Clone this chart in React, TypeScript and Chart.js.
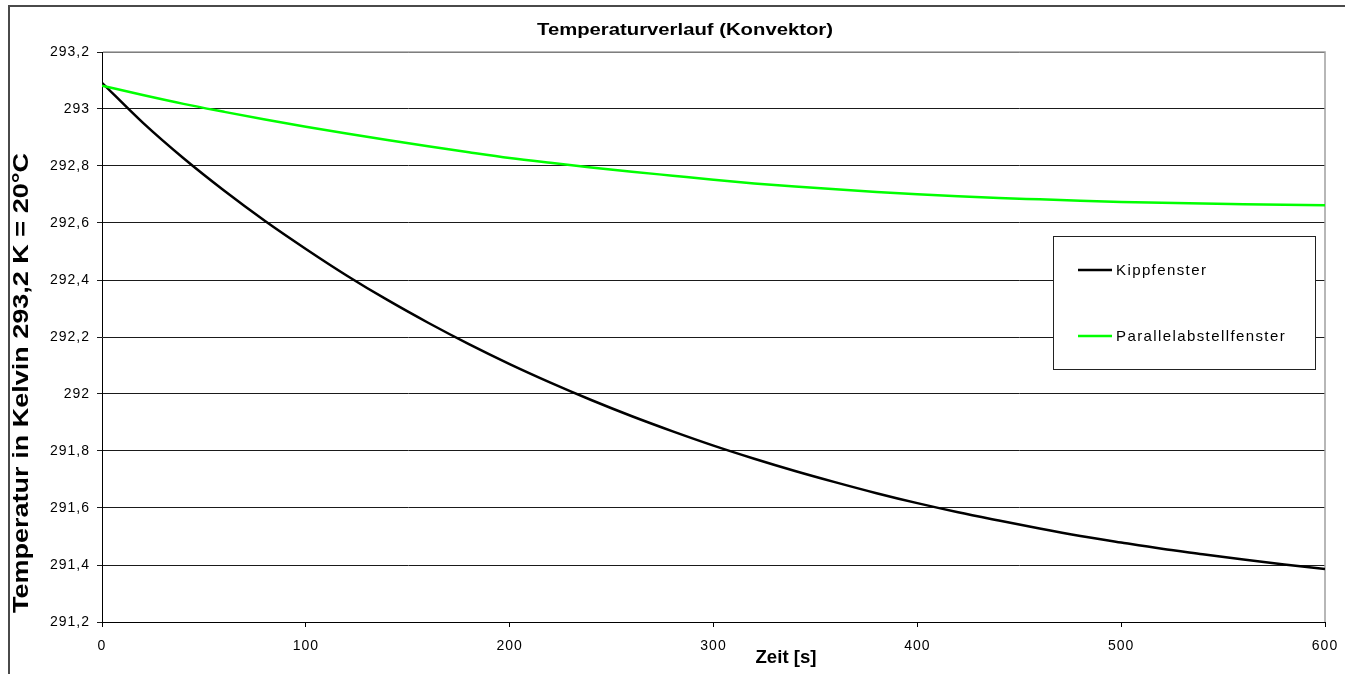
import { useEffect, useRef } from "react";
import { Chart, registerables, type Plugin } from "chart.js";

Chart.register(...registerables);

// Zeitachse in Sekunden
const zeit = [
  0, 20, 40, 60, 80, 100, 120, 140, 160, 180, 200, 220, 240, 260, 280, 300,
  320, 340, 360, 380, 400, 420, 440, 460, 480, 500, 520, 540, 560, 580, 600,
];

// Temperatur in Kelvin
const kippfenster = [
  293.092, 292.952, 292.827, 292.713, 292.607, 292.509, 292.416, 292.33,
  292.25, 292.175, 292.105, 292.04, 291.979, 291.922, 291.869, 291.819,
  291.773, 291.73, 291.69, 291.652, 291.617, 291.585, 291.556, 291.528,
  291.502, 291.479, 291.457, 291.438, 291.419, 291.402, 291.386,
];

const parallelabstellfenster = [
  293.082, 293.049, 293.018, 292.99, 292.963, 292.938, 292.914, 292.891,
  292.869, 292.848, 292.828, 292.811, 292.795, 292.78, 292.766, 292.752,
  292.739, 292.728, 292.718, 292.709, 292.701, 292.694, 292.688, 292.683,
  292.678, 292.674, 292.671, 292.668, 292.666, 292.664, 292.662,
];

const yTicks = [
  291.2, 291.4, 291.6, 291.8, 292, 292.2, 292.4, 292.6, 292.8, 293, 293.2,
];
const xTicks = [0, 100, 200, 300, 400, 500, 600];

const titel = "Temperaturverlauf (Konvektor)";
const xTitel = "Zeit [s]";
const yTitel = "Temperatur in Kelvin 293,2 K = 20°C";

const FONT = '"Liberation Sans", Arial, sans-serif';

// Text auf eine feste Breite bringen (Excel-Schrift ist schmaler/breiter)
function fitText(
  ctx: CanvasRenderingContext2D,
  text: string,
  x: number,
  y: number,
  width: number,
  font: string,
  rotate = false
) {
  ctx.save();
  ctx.font = font;
  (ctx as any).letterSpacing = "0px";
  const w = ctx.measureText(text).width;
  ctx.translate(x, y);
  if (rotate) ctx.rotate(-Math.PI / 2);
  ctx.scale(width / w, 1);
  ctx.textAlign = "center";
  ctx.textBaseline = "middle";
  ctx.fillStyle = "#000";
  ctx.fillText(text, 0, 0);
  ctx.restore();
}

const excelDeko: Plugin<"line"> = {
  id: "excelDeko",
  beforeDraw(chart) {
    const ctx = chart.ctx;
    ctx.save();
    ctx.strokeStyle = "#4a4a4a";
    ctx.lineWidth = 2;
    ctx.strokeRect(9, 6, 1400, 720);
    ctx.restore();
    (ctx as any).letterSpacing = "1px";
  },
  beforeDatasetsDraw(chart) {
    const { ctx, chartArea } = chart;
    ctx.save();
    ctx.strokeStyle = "#a0a0a0";
    ctx.lineWidth = 1.5;
    ctx.beginPath();
    ctx.moveTo(chartArea.left + 1, chartArea.top);
    ctx.lineTo(chartArea.right, chartArea.top);
    ctx.lineTo(chartArea.right, chartArea.bottom);
    ctx.stroke();
    ctx.restore();
  },
  afterDraw(chart) {
    const ctx = chart.ctx;
    fitText(ctx, titel, 685, 30, 296, `bold 17px ${FONT}`);
    fitText(ctx, xTitel, 786, 658, 61, `bold 19px ${FONT}`);
    fitText(ctx, yTitel, 22, 383, 460, `bold 22px ${FONT}`, true);

    // Legende
    ctx.save();
    ctx.fillStyle = "#fff";
    ctx.fillRect(1053, 236, 262, 133);
    ctx.strokeStyle = "#222";
    ctx.lineWidth = 1;
    ctx.strokeRect(1053.5, 236.5, 262, 133);
    const rows = [270, 336];
    chart.data.datasets.forEach((ds, i) => {
      const y = rows[i];
      ctx.strokeStyle = ds.borderColor as string;
      ctx.lineWidth = 2.5;
      ctx.beginPath();
      ctx.moveTo(1078, y);
      ctx.lineTo(1112, y);
      ctx.stroke();
      ctx.font = `15px ${FONT}`;
      (ctx as any).letterSpacing = "1.4px";
      ctx.fillStyle = "#000";
      ctx.textAlign = "left";
      ctx.textBaseline = "middle";
      ctx.fillText(ds.label ?? "", 1116, y + 1);
    });
    ctx.restore();
  },
};

const komma = (v: number) =>
  String(Number(v.toFixed(1))).replace(".", ",");

export default function App() {
  const canvasRef = useRef<HTMLCanvasElement>(null);

  useEffect(() => {
    if (!canvasRef.current) return;
    const chart = new Chart(canvasRef.current, {
      type: "line",
      data: {
        datasets: [
          {
            label: "Kippfenster",
            data: zeit.map((t, i) => ({ x: t, y: kippfenster[i] })),
            borderColor: "#000000",
            borderWidth: 2.5,
            pointRadius: 0,
            cubicInterpolationMode: "monotone",
            order: 2,
          },
          {
            label: "Parallelabstellfenster",
            data: zeit.map((t, i) => ({ x: t, y: parallelabstellfenster[i] })),
            borderColor: "#00ff00",
            borderWidth: 2.5,
            pointRadius: 0,
            cubicInterpolationMode: "monotone",
            order: 1,
          },
        ],
      },
      options: {
        responsive: false,
        animation: false,
        layout: { padding: { left: 42, top: 52, right: 20, bottom: 22 } },
        plugins: {
          legend: { display: false },
          title: { display: false },
          tooltip: { enabled: false },
        },
        scales: {
          x: {
            type: "linear",
            min: 0,
            max: 600,
            afterBuildTicks: (s) => {
              s.ticks = xTicks.map((v) => ({ value: v }));
            },
            afterFit: (s) => {
              s.height = 30;
              s.paddingLeft = 0;
              s.paddingRight = 0;
            },
            grid: {
              drawOnChartArea: false,
              tickLength: 5,
              color: "#000",
            },
            border: { color: "#000", width: 1 },
            ticks: {
              color: "#000",
              font: { family: FONT, size: 14 },
              padding: 11,
              maxRotation: 0,
              callback: (v) => String(v),
            },
          },
          y: {
            min: 291.2,
            max: 293.2,
            afterBuildTicks: (s) => {
              s.ticks = yTicks.map((v) => ({ value: v }));
            },
            afterFit: (s) => {
              s.width = 60;
              s.paddingTop = 0;
              s.paddingBottom = 0;
            },
            grid: {
              tickLength: 5,
              color: "#1a1a1a",
              lineWidth: 1,
            },
            border: { color: "#000", width: 1 },
            ticks: {
              color: "#000",
              font: { family: FONT, size: 14 },
              padding: 7,
              callback: (v) => komma(Number(v)),
            },
          },
        },
      },
      plugins: [excelDeko],
    });
    return () => chart.destroy();
  }, []);

  return (
    <div
      style={{
        position: "fixed",
        left: 0,
        top: 0,
        width: 1345,
        height: 674,
        background: "#fff",
      }}
    >
      <canvas ref={canvasRef} width={1345} height={674} />
    </div>
  );
}
